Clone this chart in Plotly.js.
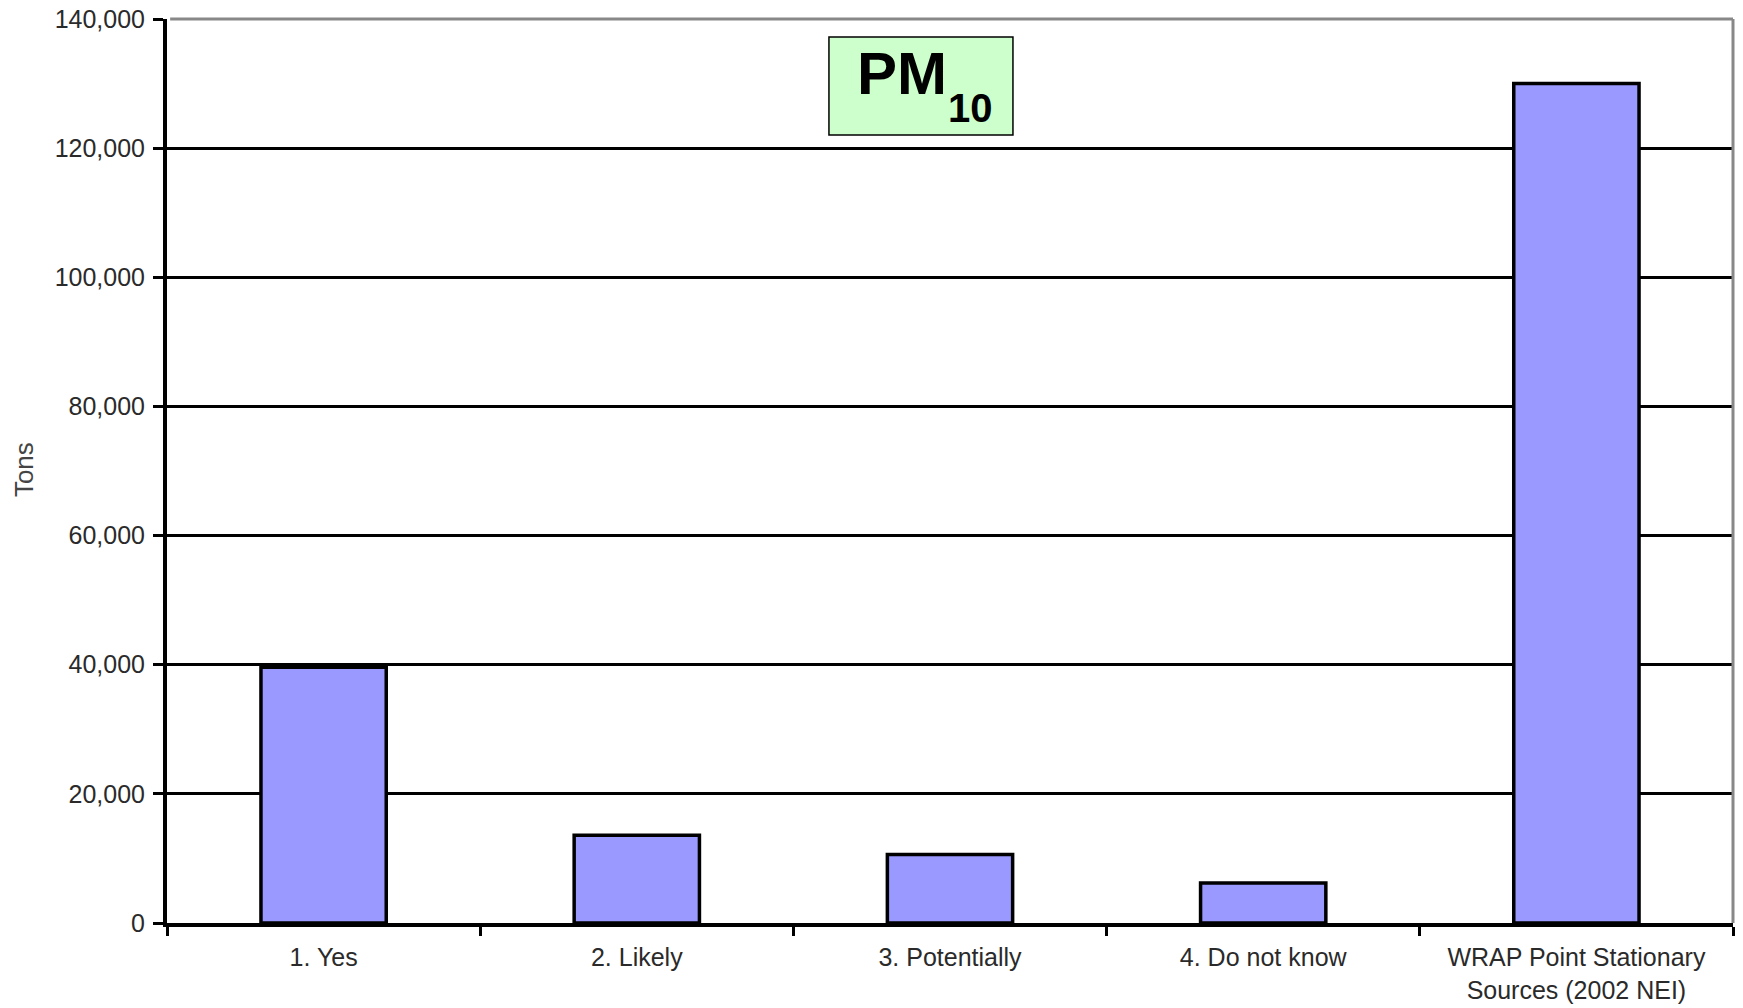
<!DOCTYPE html>
<html>
<head>
<meta charset="utf-8">
<script src="https://cdn.plot.ly/plotly-3.0.1.min.js"></script>
<style>html,body{margin:0;padding:0;background:#fff;}#chart{width:1743px;height:1008px;}</style>
</head>
<body>
<div id="chart"></div>
<script>
const categories = ["1. Yes", "2. Likely", "3. Potentially", "4. Do not know", "WRAP Point Stationary<br>Sources (2002 NEI)"];
const tons = [39600, 13600, 10600, 6200, 130000];
const yTicks = [0, 20000, 40000, 60000, 80000, 100000, 120000, 140000];
const chartTitleMain = "PM";
const chartTitleSub = "10";
const yTitle = "Tons";

const font = "Liberation Sans, Arial, sans-serif";

const trace = {
  type: "bar",
  x: categories,
  y: tons,
  marker: { color: "#9999FF", line: { color: "#000000", width: 3.5 } },
  hoverinfo: "x+y"
};

const layout = {
  width: 1743,
  height: 1008,
  margin: { l: 167, r: 10, t: 19, b: 85 },
  paper_bgcolor: "#ffffff",
  plot_bgcolor: "#ffffff",
  showlegend: false,
  bargap: 0.6,
  font: { family: font, size: 25, color: "#2a2a2a" },
  xaxis: {
    type: "category",
    showgrid: false,
    showline: true,
    linecolor: "#000000",
    linewidth: 4,
    ticks: "outside",
    tickson: "boundaries",
    ticklen: 9,
    tickwidth: 3,
    tickcolor: "#000000",
    ticklabelstandoff: 9,
    tickfont: { family: font, size: 25, color: "#2a2a2a" },
    fixedrange: true
  },
  yaxis: {
    range: [0, 140000],
    tickvals: yTicks,
    tickformat: ",",
    showgrid: true,
    gridcolor: "#000000",
    gridwidth: 3,
    zeroline: false,
    showline: true,
    linecolor: "#000000",
    linewidth: 4,
    ticks: "outside",
    ticklen: 10,
    tickwidth: 3,
    tickcolor: "#000000",
    ticklabelstandoff: 3,
    tickfont: { family: font, size: 25, color: "#2a2a2a" },
    fixedrange: true
  },
  shapes: [
    { type: "line", xref: "paper", yref: "paper", x0: 0.002, x1: 1, y0: 1, y1: 1, line: { color: "#888888", width: 3 }, layer: "above" },
    { type: "line", xref: "paper", yref: "paper", x0: 1, x1: 1, y0: 0, y1: 1, line: { color: "#888888", width: 3 }, layer: "above" },
    { type: "rect", xref: "paper", yref: "paper", x0: 0.4227, x1: 0.5402, y0: 0.8717, y1: 0.9801, fillcolor: "#CCFFCC", line: { color: "#000000", width: 1.5 }, layer: "above" }
  ],
  annotations: [
    { text: "<b>" + chartTitleMain + "</b>", xref: "paper", yref: "paper", x: 0.4693, y: 0.9395, xanchor: "center", yanchor: "middle", showarrow: false, font: { family: font, size: 60, color: "#000000" } },
    { text: "<b>" + chartTitleSub + "</b>", xref: "paper", yref: "paper", x: 0.5128, y: 0.9015, xanchor: "center", yanchor: "middle", showarrow: false, font: { family: font, size: 40, color: "#000000" } },
    { text: yTitle, xref: "paper", yref: "paper", x: -0.0913, y: 0.501, xanchor: "center", yanchor: "middle", textangle: -90, showarrow: false, font: { family: font, size: 26, color: "#444444" } }
  ]
};

Plotly.newPlot("chart", [trace], layout, { displayModeBar: false, staticPlot: true });
</script>
</body>
</html>
